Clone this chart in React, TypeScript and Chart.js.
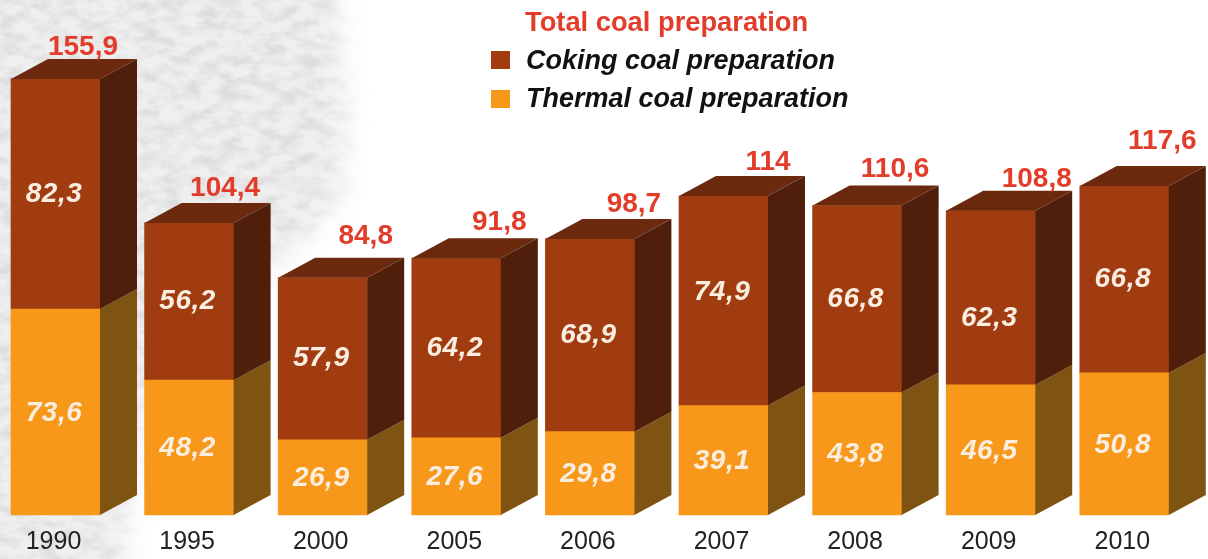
import React, { useEffect, useRef } from "react";
import { Chart, registerables } from "chart.js";

Chart.register(...registerables);

const years = ["1990", "1995", "2000", "2005", "2006", "2007", "2008", "2009", "2010"];
const thermal = [73.6, 48.2, 26.9, 27.6, 29.8, 39.1, 43.8, 46.5, 50.8];
const coking = [82.3, 56.2, 57.9, 64.2, 68.9, 74.9, 66.8, 62.3, 66.8];
const totals = [155.9, 104.4, 84.8, 91.8, 98.7, 114, 110.6, 108.8, 117.6];

const totalDx = [27.5, 36, 43, 43, 44, 44.5, 38, 46, 38];
const totalDy = [-33, -36, -43, -37, -36, -35, -38, -33, -46];
const cokingLabelDy = [0, 0, 0, 0, 0, -9, 0, 20, 0];

const FRONT = { coking: "#a03c10", thermal: "#f7981a" };
const SIDE = { coking: "#4f1f0c", thermal: "#7f5412" };
const TOP = "#6b2a0e";
const RED = "#e23c2a";
const DX = 37;
const DY = 20;
const fmt = (v: number) => String(v).replace(".", ",");

const cuboidPlugin = {
  id: "cuboid",
  afterDatasetsDraw(chart: any) {
    const { ctx } = chart;
    const poly = (pts: number[][], color: string) => {
      ctx.fillStyle = color;
      ctx.beginPath();
      pts.forEach((p, i) => (i ? ctx.lineTo(p[0], p[1]) : ctx.moveTo(p[0], p[1])));
      ctx.closePath();
      ctx.fill();
    };
    const tMeta = chart.getDatasetMeta(0);
    const cMeta = chart.getDatasetMeta(1);
    ctx.save();
    years.forEach((_, i) => {
      [tMeta.data[i], cMeta.data[i]].forEach((bar: any, k: number) => {
        const { x, y, base, width } = bar.getProps(["x", "y", "base", "width"], true);
        const r = x + width / 2;
        const l = x - width / 2;
        poly([[r, y], [r + DX, y - DY], [r + DX, base - DY], [r, base]], k ? SIDE.coking : SIDE.thermal);
        if (k) poly([[l, y], [l + DX, y - DY], [r + DX, y - DY], [r, y]], TOP);
      });
    });
    ctx.textAlign = "center";
    ctx.textBaseline = "middle";
    years.forEach((_, i) => {
      const tb: any = tMeta.data[i];
      const cb: any = cMeta.data[i];
      ctx.font = "italic bold 28px 'Liberation Sans'";
      (ctx as any).letterSpacing = "0.5px";
      ctx.fillStyle = "#fbeee0";
      ctx.fillText(fmt(thermal[i]), tb.x - 1.5, (tb.y + tb.base) / 2 + 1);
      ctx.fillText(fmt(coking[i]), cb.x - 1.5, (cb.y + cb.base) / 2 + cokingLabelDy[i]);
      (ctx as any).letterSpacing = "0px";
      ctx.font = "bold 28px 'Liberation Sans'";
      ctx.fillStyle = RED;
      ctx.fillText(fmt(totals[i]), cb.x + totalDx[i], cb.y + totalDy[i] + 1.5);
    });
    ctx.textAlign = "left";
    ctx.font = "bold 27.3px 'Liberation Sans'";
    ctx.fillStyle = RED;
    ctx.fillText("Total coal preparation", 525, 23);
    ctx.font = "italic bold 27px 'Liberation Sans'";
    ctx.fillStyle = "#111";
    ctx.fillText(chart.data.datasets[1].label, 526, 61.5);
    ctx.fillText(chart.data.datasets[0].label, 526, 99.5);
    ctx.fillStyle = FRONT.coking;
    ctx.fillRect(491, 51, 19, 18);
    ctx.fillStyle = FRONT.thermal;
    ctx.fillRect(491, 90, 19, 18);
    ctx.restore();
  },
};

export default function App() {
  const ref = useRef<HTMLCanvasElement>(null);
  useEffect(() => {
    const chart = new Chart(ref.current as HTMLCanvasElement, {
      type: "bar",
      data: {
        labels: years,
        datasets: [
          { label: "Thermal coal preparation", data: thermal, backgroundColor: FRONT.thermal, clip: false },
          { label: "Coking coal preparation", data: coking, backgroundColor: FRONT.coking, clip: false },
        ],
      },
      plugins: [cuboidPlugin],
      options: {
        responsive: false,
        animation: false,
        layout: { padding: { left: 55.5, right: 83.7, top: 0, bottom: 0 } },
        plugins: { legend: { display: false }, tooltip: { enabled: false }, title: { display: false } },
        datasets: { bar: { barThickness: 89 } },
        scales: {
          x: {
            stacked: true,
            offset: false,
            grid: { display: false },
            border: { display: false },
            afterFit: (s: any) => {
              s.height = 44;
            },
            ticks: {
              autoSkip: false,
              maxRotation: 0,
              padding: 4,
              labelOffset: -2,
              color: "#222",
              font: { family: "'Liberation Sans'", size: 25 },
            },
          },
          y: { stacked: true, display: false, min: 0, max: 184.1 },
        },
      } as any,
    });
    return () => chart.destroy();
  }, []);

  return (
    <div style={{ position: "fixed", left: 0, top: 0, width: 1208, height: 559, background: "#fff", overflow: "hidden" }}>
      <svg width={1208} height={559} style={{ position: "absolute", left: 0, top: 0 }}>
        <defs>
          <filter id="grain" x="0" y="0" width="100%" height="100%">
            <feTurbulence type="fractalNoise" baseFrequency="0.05 0.09" numOctaves={4} seed={7} />
            <feColorMatrix
              type="matrix"
              values="0 0 0 0 0.72  0 0 0 0 0.72  0 0 0 0 0.72  2.6 0 0 0 -1.0"
            />
          </filter>
          <filter id="soft" x="-20%" y="-20%" width="140%" height="140%">
            <feGaussianBlur stdDeviation="14" />
          </filter>
          <mask id="area">
            <polygon
              points="-40,-40 335,-40 345,110 340,200 270,270 170,330 150,400 130,480 120,600 -40,600"
              fill="#fff"
              filter="url(#soft)"
            />
          </mask>
        </defs>
        <g mask="url(#area)">
          <rect width={420} height={559} fill="#efefef" />
          <rect width={420} height={559} filter="url(#grain)" />
        </g>
      </svg>
      <canvas
        ref={ref}
        width={1208}
        height={559}
        style={{ position: "absolute", left: 0, top: 0, filter: "blur(0.6px)" }}
      />
    </div>
  );
}
